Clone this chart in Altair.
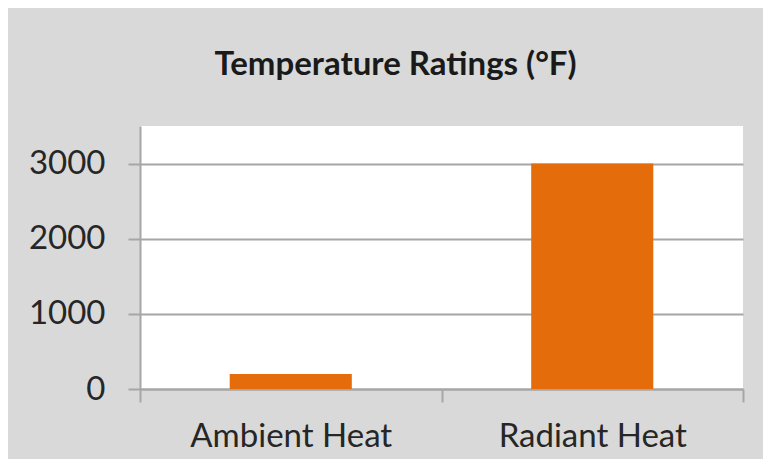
import altair as alt
import pandas as pd

categories = ["Ambient Heat", "Radiant Heat"]
values = [200, 3000]
y_ticks = [0, 1000, 2000, 3000]

df = pd.DataFrame({"category": categories, "value": values})

FONT = "Lato"
GRID = "#A6A6A6"

chart = (
    alt.Chart(df)
    .mark_bar(color="#E46C0A", width=alt.RelativeBandSize(0.405))
    .encode(
        x=alt.X(
            "category:N",
            sort=categories,
            title=None,
            scale=alt.Scale(paddingInner=0, paddingOuter=0),
            axis=alt.Axis(
                labelAngle=0,
                labelFont=FONT,
                labelFontSize=33,
                labelColor="#262626",
                labelPadding=18,
                labelLimit=400,
                tickBand="extent",
                tickSize=13,
                tickColor=GRID,
                tickWidth=2,
                domainColor=GRID,
                domainWidth=2,
                grid=False,
            ),
        ),
        y=alt.Y(
            "value:Q",
            title=None,
            scale=alt.Scale(domain=[0, 3500], nice=False),
            axis=alt.Axis(
                values=y_ticks,
                format="d",
                labelFont=FONT,
                labelFontSize=33,
                labelColor="#262626",
                labelPadding=23,
                tickSize=12,
                tickColor=GRID,
                tickWidth=2,
                domainColor=GRID,
                domainWidth=2,
                gridColor=GRID,
                gridWidth=2,
            ),
        ),
    )
    .properties(
        width=603,
        height=263,
        background="#D9D9D9",
        padding={"left": 132, "top": 118, "right": 20, "bottom": 70},
        autosize=alt.AutoSizeParams(type="none"),
        title=alt.TitleParams(
            "Temperature Ratings (°F)",
            font=FONT,
            fontSize=33,
            fontWeight="bold",
            color="#1A1A1A",
            anchor="middle",
            dx=-46,
            offset=44,
        ),
    )
    .configure_view(fill="white", stroke=None)
)

chart.save("out.html", embed_options={"renderer": "svg", "actions": False})
